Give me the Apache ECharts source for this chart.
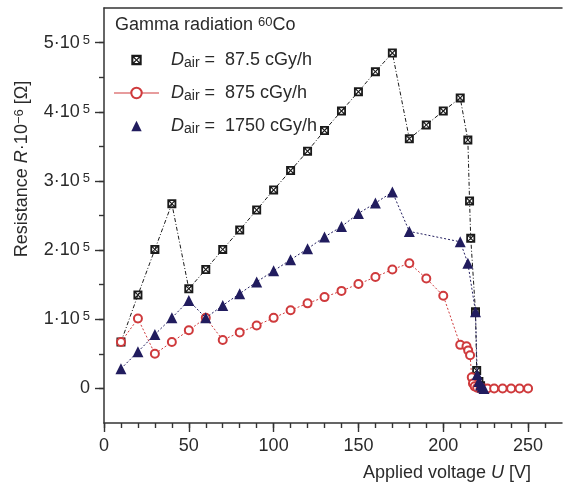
<!DOCTYPE html>
<html>
<head>
<meta charset="utf-8">
<script src="https://cdn.jsdelivr.net/npm/echarts@6/dist/echarts.min.js"></script>
<style>
  html, body { margin: 0; padding: 0; background: #fff; }
  #chart { width: 566px; height: 486px; }
</style>
</head>
<body>
<div id="chart"></div>
<script>
// Data
const names = ['87.5 cGy/h', '875 cGy/h', '1750 cGy/h'];

const lowX = [10, 20, 30, 40, 50, 60, 70, 80, 90, 100, 110, 120, 130, 140, 150, 160, 170, 180, 190, 200,
              210, 214.5, 215.5, 216.2, 219, 219.7, 221, 222, 223];
const lowY = [67000, 135000, 201000, 267000, 144000, 172000, 201000, 229000, 258000, 287000, 315000, 343000,
              373000, 401000, 429000, 458000, 485000, 361000, 381000, 401000,
              420000, 359000, 271000, 217000, 111000, 26000, 10000, 4000, 0];

const midX = [10, 20, 30, 40, 50, 60, 70, 80, 90, 100, 110, 120, 130, 140, 150, 160, 170, 180, 190, 200,
              210, 213.7, 214.7, 215.8, 216.8, 217.5, 218.5, 220, 222, 224, 226, 230, 235, 240, 245, 250];
const midY = [67000, 101000, 50000, 67000, 84000, 102000, 70000, 81000, 91000, 102000, 113000, 123000,
              132000, 141000, 151000, 161000, 172000, 181000, 159000, 134000,
              63000, 61000, 55000, 48000, 16000, 7000, 3000, 1000, 0, 0, 0, 0, 0, 0, 0, 0];

const highX = [10, 20, 30, 40, 50, 60, 70, 80, 90, 100, 110, 120, 130, 140, 150, 160, 170, 180,
               210, 214.5, 219, 220, 221, 222, 223, 224];
const highY = [28500, 53000, 78000, 102000, 127000, 102000, 120000, 137000, 154000, 170000, 186000, 202000,
               219000, 234000, 253000, 268000, 284000, 227000,
               212000, 181000, 111000, 20000, 10000, 5000, 2000, 0];

const xMajor = [0, 50, 100, 150, 200, 250];
const xAllTicks = [0, 10, 20, 30, 40, 50, 60, 70, 80, 90, 100, 110, 120, 130, 140, 150, 160, 170, 180, 190,
                   200, 210, 220, 230, 240, 250, 260];
const yMajor = [0, 100000, 200000, 300000, 400000, 500000];
const yAllTicks = [0, 50000, 100000, 150000, 200000, 250000, 300000, 350000, 400000, 450000, 500000];

const FONT = 'Liberation Sans';
const FS = 18;
const ink = '#2a2a2a';
const colors = ['#1a1a1a', '#cf3a3c', '#211c5e'];
// dark square with a light hourglass-shaped X inside
const boxX = 'path://M0,0L10,0L10,10L0,10Z M3,2L5,4.2L7,2Z M8,3L5.8,5L8,7Z M7,8L5,5.8L3,8Z M2,7L4.2,5L2,3Z';

const pairs = (xs, ys) => xs.map((x, i) => [x, ys[i]]);

const chart = echarts.init(document.getElementById('chart'));

const hiddenLine = { show: true, onZero: false, lineStyle: { color: '#333', opacity: 0 } };

const option = {
    animation: false,
    textStyle: { fontFamily: FONT },
    title: {
        text: 'Gamma radiation {sup|60}Co',
        left: 110,
        top: 11,
        textStyle: {
            fontFamily: FONT,
            fontSize: FS,
            fontWeight: 'normal',
            color: ink,
            rich: {
                sup: { fontFamily: FONT, fontSize: 13, verticalAlign: 'top', color: ink },
            },
        },
    },
    legend: {
        orient: 'vertical',
        left: 113,
        top: 51,
        padding: 0,
        itemWidth: 45,
        itemHeight: 13,
        itemGap: 14,
        selectedMode: false,
        data: [
            { name: names[0], lineStyle: { opacity: 0 } },
            { name: names[1], lineStyle: { type: 'solid', width: 1.2 } },
            { name: names[2], lineStyle: { opacity: 0 } },
        ],
        formatter: function (name) {
            return '{i|D}{s|air} =  ' + name;
        },
        textStyle: {
            fontFamily: FONT,
            fontSize: FS,
            color: ink,
            padding: [0, 0, 0, 7],
            rich: {
                i: { fontFamily: FONT, fontSize: FS, fontStyle: 'italic', color: ink },
                s: { fontFamily: FONT, fontSize: 14, verticalAlign: 'bottom', padding: [6, 0, 0, 0], color: ink },
            },
        },
    },
    grid: { left: 104, right: 4, top: 8, bottom: 63 },
    xAxis: [
        {
            type: 'value',
            position: 'bottom',
            min: 0,
            max: 270,
            splitLine: { show: false },
            axisLine: { onZero: false, lineStyle: { color: '#333', width: 1.5 } },
            axisTick: { customValues: xMajor, length: 9, lineStyle: { color: '#333', width: 1.4 } },
            axisLabel: { customValues: xMajor, margin: 14, fontSize: FS, color: ink, fontFamily: FONT },
        },
        {
            // short ticks every 10
            type: 'value',
            position: 'bottom',
            min: 0,
            max: 270,
            splitLine: { show: false },
            axisLine: hiddenLine,
            axisLabel: { show: false },
            axisTick: { show: true, customValues: xAllTicks, length: 5, lineStyle: { color: '#333', width: 1.4 } },
        },
        {
            type: 'value',
            position: 'top',
            min: 0,
            max: 270,
            splitLine: { show: false },
            axisLine: { show: true, onZero: false, lineStyle: { color: '#333', width: 1.5 } },
            axisLabel: { show: false },
            axisTick: { show: false },
        },
    ],
    yAxis: [
        {
            type: 'value',
            position: 'left',
            min: -50000,
            max: 550000,
            splitLine: { show: false },
            axisLine: { onZero: false, lineStyle: { color: '#333', width: 1.5 } },
            axisTick: { customValues: yAllTicks, length: 5, lineStyle: { color: '#333', width: 1.4 } },
            axisLabel: {
                customValues: yMajor,
                margin: 14,
                fontSize: FS,
                color: ink,
                fontFamily: FONT,
                formatter: function (v) {
                    if (v === 0) return '0';
                    return (v / 100000) + '\u00b710{sup|5}';
                },
                rich: {
                    sup: { fontFamily: FONT, fontSize: 13, verticalAlign: 'top', padding: [0, 0, 0, 3], color: ink },
                },
            },
        },
        {
            type: 'value',
            position: 'left',
            offset: 0,
            min: -50000,
            max: 550000,
            splitLine: { show: false },
            axisLine: hiddenLine,
            axisLabel: { show: false },
            axisTick: { show: true, customValues: yMajor, length: 9, lineStyle: { color: '#333', width: 1.4 } },
        },
    ],
    graphic: [
        {
            type: 'text',
            x: 22,
            y: 169,
            rotation: Math.PI / 2,
            style: {
                text: 'Resistance {i|R}\u00b710{sup|\u22126} [\u03a9]',
                fontFamily: FONT,
                fontSize: FS,
                fill: ink,
                align: 'center',
                verticalAlign: 'middle',
                rich: {
                    i: { fontFamily: FONT, fontSize: FS, fontStyle: 'italic', fill: ink },
                    sup: { fontFamily: FONT, fontSize: 13, verticalAlign: 'top', fill: ink },
                },
            },
        },
        {
            type: 'text',
            x: 447,
            y: 473,
            style: {
                text: 'Applied voltage {i|U} [V]',
                fontFamily: FONT,
                fontSize: FS,
                fill: ink,
                align: 'center',
                verticalAlign: 'middle',
                rich: {
                    i: { fontFamily: FONT, fontSize: FS, fontStyle: 'italic', fill: ink },
                },
            },
        },
    ],
    series: [
        {
            name: names[0],
            type: 'line',
            data: pairs(lowX, lowY),
            symbol: boxX,
            symbolSize: 9,
            itemStyle: { color: colors[0] },
            lineStyle: { color: colors[0], width: 1, type: [4, 2, 1, 2] },
            z: 2,
        },
        {
            name: names[1],
            type: 'line',
            data: pairs(midX, midY),
            symbol: 'emptyCircle',
            symbolSize: 8,
            itemStyle: { color: colors[1], borderWidth: 1.3 },
            lineStyle: { color: colors[1], width: 1, type: [2, 2] },
            z: 3,
        },
        {
            name: names[2],
            type: 'line',
            data: pairs(highX, highY),
            symbol: 'triangle',
            symbolSize: 11,
            itemStyle: { color: colors[2] },
            lineStyle: { color: colors[2], width: 1, type: [2, 2] },
            z: 4,
        },
    ],
};

chart.setOption(option);
</script>
</body>
</html>
